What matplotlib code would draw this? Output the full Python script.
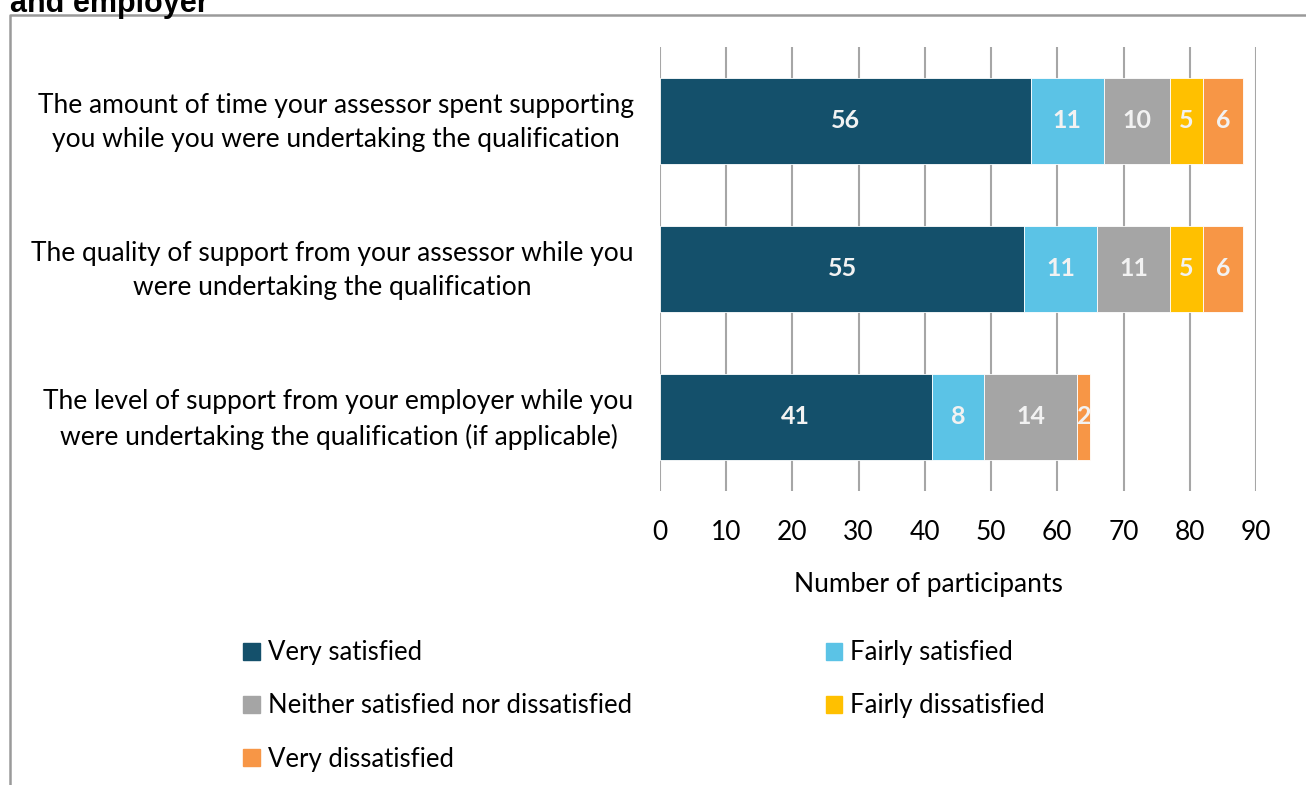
import matplotlib.pyplot as plt
from matplotlib.patches import Patch
from matplotlib.transforms import ScaledTranslation
import numpy as np

plt.rcParams['font.family'] = ['Lato', 'DejaVu Sans']

questions = [
    "The amount of time your assessor spent supporting\nyou while you were undertaking the qualification",
    "The quality of support from your assessor while you\nwere undertaking the qualification",
    "The level of support from your employer while you\nwere undertaking the qualification (if applicable)",
]
responses = ["Very satisfied", "Fairly satisfied",
             "Neither satisfied nor dissatisfied", "Fairly dissatisfied",
             "Very dissatisfied"]
very_sat = [56, 55, 41]
fairly_sat = [11, 11, 8]
neither = [10, 11, 14]
fairly_dis = [5, 5, 0]
very_dis = [6, 6, 2]
colors = ["#14506B", "#5BC3E6", "#A5A5A5", "#FFC000", "#F79646"]

series = [very_sat, fairly_sat, neither, fairly_dis, very_dis]

fig = plt.figure(figsize=(13.06, 7.85), dpi=100)
ax = fig.add_axes([660 / 1306, 1 - 491 / 785, 596 / 1306, 444 / 785])

y = np.arange(len(questions))
left = np.zeros(len(questions))
for vals, col in zip(series, colors):
    vals = np.array(vals)
    bars = ax.barh(y, vals, left=left, height=0.58, color=col,
                   edgecolor='white', linewidth=0.6, zorder=3)
    for b, v in zip(bars, vals):
        if v > 0:
            ax.text(b.get_x() + b.get_width() / 2, b.get_y() + b.get_height() / 2,
                    str(v), ha='center', va='center', color='#F2F2F2',
                    fontsize=18, fontweight='bold', zorder=4)
    left += vals

ax.set_xlim(0, 90)
ax.set_ylim(2.5, -0.5)
ax.set_xticks(range(0, 91, 10))
ax.grid(axis='x', color='#A6A6A6', linewidth=1.5, zorder=0)
ax.set_axisbelow(True)
for s in ax.spines.values():
    s.set_visible(False)
ax.tick_params(axis='x', length=0, pad=21, labelsize=19)
ax.tick_params(axis='y', length=0, pad=19)
ax.set_yticks(y)
ax.set_yticklabels(questions, fontsize=19, multialignment='center',
                   linespacing=1.45)
# nudge the category labels up a little
for lbl in ax.get_yticklabels():
    lbl.set_transform(lbl.get_transform() + ScaledTranslation(0, 0.05, fig.dpi_scale_trans))
ax.set_xlabel("Number of participants", fontsize=19)
ax.xaxis.set_label_coords(0.45, -0.183)

handles = [Patch(color=c) for c in colors]
order = [0, 2, 4, 1, 3]
fig.legend([handles[i] for i in order], [responses[i] for i in order],
           ncol=2, loc='upper left', bbox_to_anchor=(220 / 1306, 1 - 617 / 785),
           frameon=False, fontsize=18.5, handlelength=0.65, handleheight=0.65,
           handletextpad=0.3, labelspacing=1.1, columnspacing=7.55)

# outer frame and heading that runs off the top edge
fig.add_artist(plt.Line2D([10 / 1306, 10 / 1306, 1.0], [0, 1 - 15 / 785, 1 - 15 / 785],
                          color='#9A9A9A', linewidth=1.8, transform=fig.transFigure))
fig.text(10 / 1306, 1 - 12 / 785, "and employer", fontsize=22, fontweight='bold',
         family='Liberation Sans', va='baseline', ha='left')

fig.savefig('out.png', dpi=100)
